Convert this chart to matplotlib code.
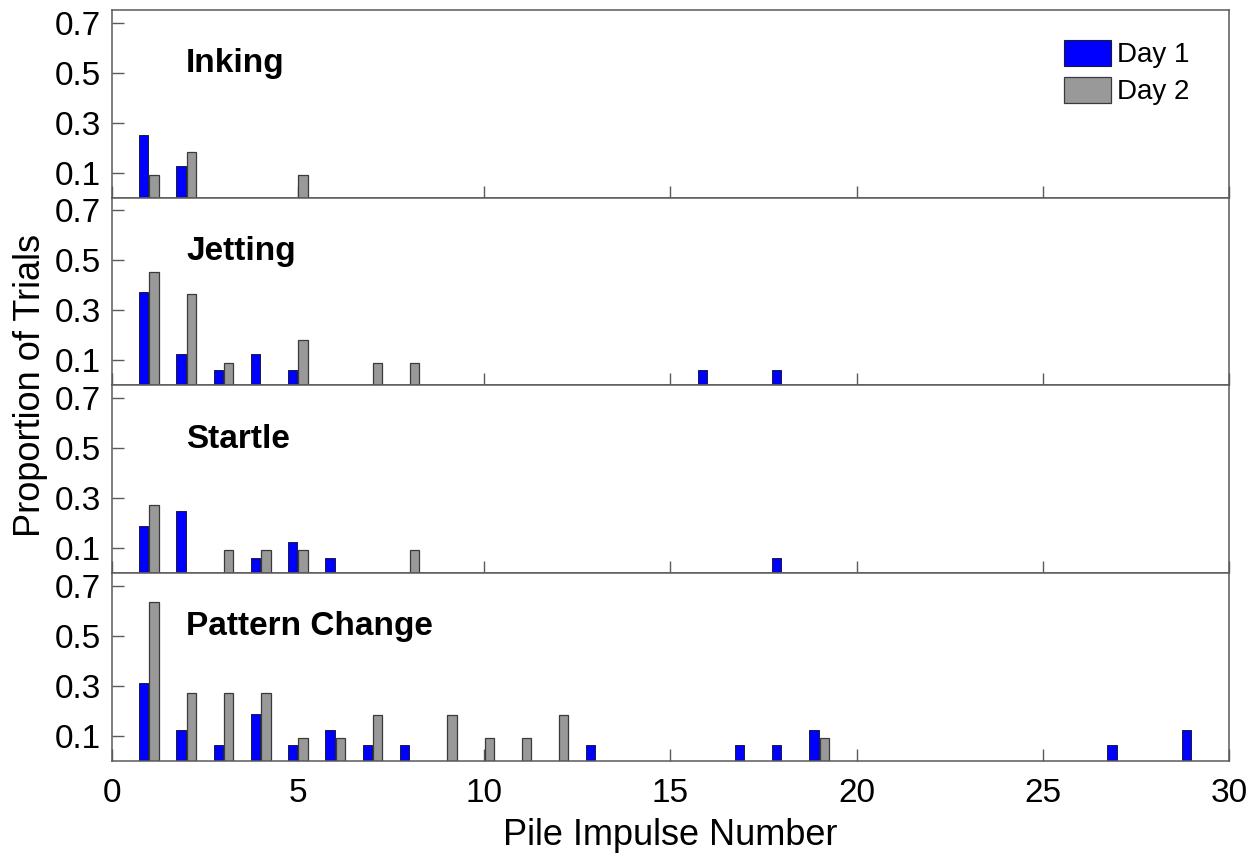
import matplotlib
matplotlib.use("Agg")
import matplotlib.pyplot as plt
from matplotlib.patches import Patch

plt.rcParams["font.family"] = ["Liberation Sans", "DejaVu Sans"]

# proportions of trials per pile impulse number, one pair of lists per day
behaviours = ["Inking", "Jetting", "Startle", "Pattern Change"]

inking_day1_x = [1, 2]
inking_day1 = [0.25, 0.125]
inking_day2_x = [1, 2, 5]
inking_day2 = [0.0909, 0.1818, 0.0909]

jetting_day1_x = [1, 2, 3, 4, 5, 16, 18]
jetting_day1 = [0.375, 0.125, 0.0625, 0.125, 0.0625, 0.0625, 0.0625]
jetting_day2_x = [1, 2, 3, 5, 7, 8]
jetting_day2 = [0.4545, 0.3636, 0.0909, 0.1818, 0.0909, 0.0909]

startle_day1_x = [1, 2, 4, 5, 6, 18]
startle_day1 = [0.1875, 0.25, 0.0625, 0.125, 0.0625, 0.0625]
startle_day2_x = [1, 3, 4, 5, 8]
startle_day2 = [0.2727, 0.0909, 0.0909, 0.0909, 0.0909]

pattern_day1_x = [1, 2, 3, 4, 5, 6, 7, 8, 13, 17, 18, 19, 27, 29]
pattern_day1 = [0.3125, 0.125, 0.0625, 0.1875, 0.0625, 0.125, 0.0625, 0.0625,
                0.0625, 0.0625, 0.0625, 0.125, 0.0625, 0.125]
pattern_day2_x = [1, 2, 3, 4, 5, 6, 7, 9, 10, 11, 12, 19]
pattern_day2 = [0.6364, 0.2727, 0.2727, 0.2727, 0.0909, 0.0909, 0.1818, 0.1818,
                0.0909, 0.0909, 0.1818, 0.0909]

day1_x = [inking_day1_x, jetting_day1_x, startle_day1_x, pattern_day1_x]
day1_y = [inking_day1, jetting_day1, startle_day1, pattern_day1]
day2_x = [inking_day2_x, jetting_day2_x, startle_day2_x, pattern_day2_x]
day2_y = [inking_day2, jetting_day2, startle_day2, pattern_day2]

y_ticks = [0.1, 0.3, 0.5, 0.7]
x_ticks = [0, 5, 10, 15, 20, 25, 30]

DAY1_COLOR = "#0000ff"
DAY2_COLOR = "#999999"
SPINE_COLOR = "#5a5a5a"
BAR_W = 0.25
OFFSET = 0.14

fig = plt.figure(figsize=(12.52, 8.58), dpi=100)
left, right = 0.0892, 0.9816
top, bottom = 0.9883, 0.1131
h = (top - bottom) / 4

axes = []
for i, name in enumerate(behaviours):
    ax = fig.add_axes([left, top - (i + 1) * h, right - left, h])
    axes.append(ax)
    ax.bar([x - OFFSET for x in day1_x[i]], day1_y[i], width=BAR_W,
           color=DAY1_COLOR, edgecolor="#1a1a40", linewidth=0.7, zorder=2)
    ax.bar([x + OFFSET for x in day2_x[i]], day2_y[i], width=BAR_W,
           color=DAY2_COLOR, edgecolor="#3a3a3a", linewidth=0.9, zorder=2)
    ax.set_xlim(0, 30)
    ax.set_ylim(0, 0.75)
    ax.set_yticks(y_ticks)
    ax.set_yticklabels([f"{t:.1f}" for t in y_ticks])
    ax.set_xticks(x_ticks)
    ax.tick_params(axis="both", direction="in", length=8.5, width=1.0,
                   color=SPINE_COLOR, labelsize=24)
    ax.tick_params(axis="y", pad=8)
    ax.tick_params(axis="x", pad=12)
    if i < 3:
        ax.tick_params(axis="x", labelbottom=False)
    for sp in ax.spines.values():
        sp.set_color(SPINE_COLOR)
        sp.set_linewidth(1.1)
    ax.text(0.0665, 0.715, name, transform=ax.transAxes, fontsize=24,
            fontweight="bold", ha="left", va="center")

axes[-1].set_xlabel("Pile Impulse Number", fontsize=26, labelpad=7)
fig.text(0.024, 0.5507, "Proportion of Trials", fontsize=26, rotation=90,
         ha="center", va="center")

handles = [Patch(facecolor=DAY1_COLOR, edgecolor="#1a1a40", linewidth=0.8),
           Patch(facecolor=DAY2_COLOR, edgecolor="#3a3a3a", linewidth=0.9)]
axes[0].legend(handles, ["Day 1", "Day 2"], loc="upper left",
               bbox_to_anchor=(0.852, 0.84), frameon=False, fontsize=20,
               handlelength=1.72, handleheight=1.05, handletextpad=0.2,
               labelspacing=0.3, borderpad=0, borderaxespad=0)

fig.savefig("out.png", dpi=100)
